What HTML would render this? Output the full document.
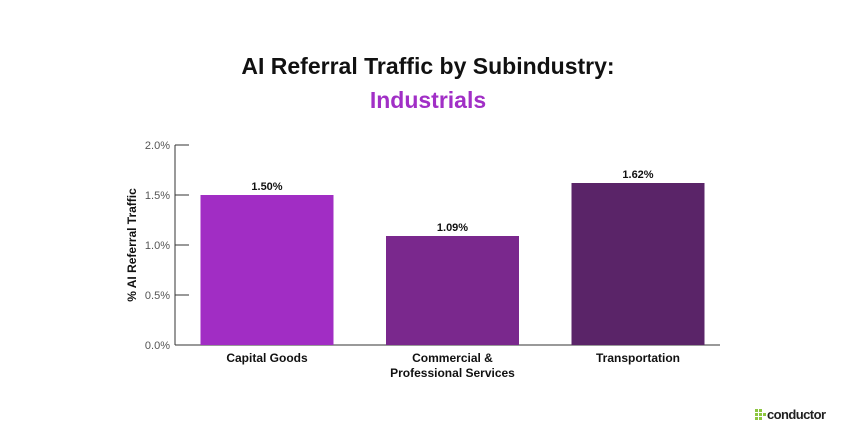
<!DOCTYPE html>
<html><head><meta charset="utf-8"><style>
body{margin:0;width:856px;height:441px;background:#fff;font-family:"Liberation Sans",sans-serif;overflow:hidden}
</style></head><body>
<svg width="856" height="441">
<text x="428" y="74" text-anchor="middle" font-size="23" font-weight="bold" fill="#111">AI Referral Traffic by Subindustry:</text>
<text x="428" y="108" text-anchor="middle" font-size="23" font-weight="bold" fill="#a12fc6">Industrials</text>
<text transform="translate(136,245) rotate(-90)" text-anchor="middle" font-size="12" font-weight="bold" fill="#111">% AI Referral Traffic</text>
<g id="axes"></g><g id="bars"></g>
<g>
<g fill="#8dc63f"><rect x="755" y="409" width="3" height="3"/><rect x="759" y="409" width="3" height="3"/><rect x="755" y="413" width="3" height="3"/><rect x="759" y="413" width="3" height="3"/><rect x="763" y="413" width="3" height="3"/><rect x="755" y="417" width="3" height="3"/><rect x="759" y="417" width="3" height="3"/></g>
<text x="767" y="419" font-size="13" font-weight="bold" fill="#222" textLength="59">conductor</text></g>
</svg>
<script>
const categories=[["Capital Goods"],["Commercial &","Professional Services"],["Transportation"]];
const values=[1.50,1.09,1.62];
const labels=["1.50%","1.09%","1.62%"];
const ticks=[0,0.5,1.0,1.5,2.0];
const colors=["#a12dc4","#7a288d","#5a2468"];
const NS="http://www.w3.org/2000/svg";
const y=v=>345-v*100;
const xc=i=>267+i*185.5;
function mk(t,a,p){const e=document.createElementNS(NS,t);for(const k in a)e.setAttribute(k,a[k]);p.appendChild(e);return e;}
const ax=document.getElementById('axes'),bg=document.getElementById('bars');
const yl=mk('line',{x1:175,x2:175,y1:145,y2:345,stroke:'#333'},ax);


const xl=mk('line',{x1:175,x2:720,y1:345,y2:345,stroke:'#333'},ax);


ticks.forEach(t=>{
 mk('line',{x1:175,x2:189,y1:y(t),y2:y(t),stroke:'#333'},ax);
 const tx=mk('text',{x:170,y:y(t)+4,'text-anchor':'end','font-size':11,fill:'#555'},ax);
 tx.textContent=t.toFixed(1)+'%';
 
 
});
values.forEach((v,i)=>{
 const r=mk('rect',{x:xc(i)-66.5,y:y(v),width:133,height:v*100,fill:colors[i]},bg);
 
 
 const l=mk('text',{x:xc(i),y:y(v)-5,'text-anchor':'middle','font-size':11,'font-weight':'bold',fill:'#111'},bg);
 l.textContent=labels[i];
 
 
 categories[i].forEach((s,j)=>{
  const c=mk('text',{x:xc(i),y:362+j*15,'text-anchor':'middle','font-size':12,'font-weight':'bold',fill:'#111'},bg);
  c.textContent=s;
  
  
 });
});
</script>
</body></html>
